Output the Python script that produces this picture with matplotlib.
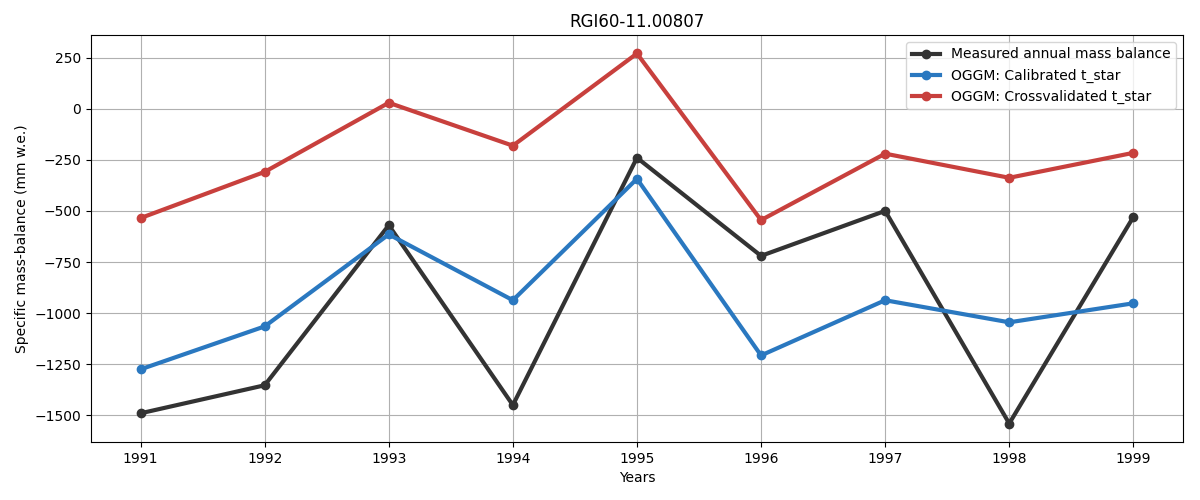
import matplotlib
matplotlib.use('Agg')
import matplotlib.pyplot as plt

years = [1991, 1992, 1993, 1994, 1995, 1996, 1997, 1998, 1999]
measured = [-1490, -1353, -570, -1450, -240, -720, -500, -1540, -530]
calibrated = [-1275, -1065, -615, -937, -343, -1207, -937, -1045, -952]
crossval = [-535, -309, 29, -181, 270, -545, -220, -338, -216]

fig, ax = plt.subplots(figsize=(12, 5))
ax.plot(years, measured, '-o', color='#333333', linewidth=3, label='Measured annual mass balance')
ax.plot(years, calibrated, '-o', color='#2a78c0', linewidth=3, label='OGGM: Calibrated t_star')
ax.plot(years, crossval, '-o', color='#c8403d', linewidth=3, label='OGGM: Crossvalidated t_star')

ax.set_title('RGI60-11.00807')
ax.set_xlabel('Years')
ax.set_ylabel('Specific mass-balance (mm w.e.)')
ax.set_xticks(years)
ax.set_yticks([-1500, -1250, -1000, -750, -500, -250, 0, 250])
ax.grid(True, color='#b0b0b0')
ax.legend(loc='upper right')

# match the reference margins
plt.subplots_adjust(left=0.0758, right=0.9858, top=0.93, bottom=0.116)
plt.savefig('out.png', dpi=100)
